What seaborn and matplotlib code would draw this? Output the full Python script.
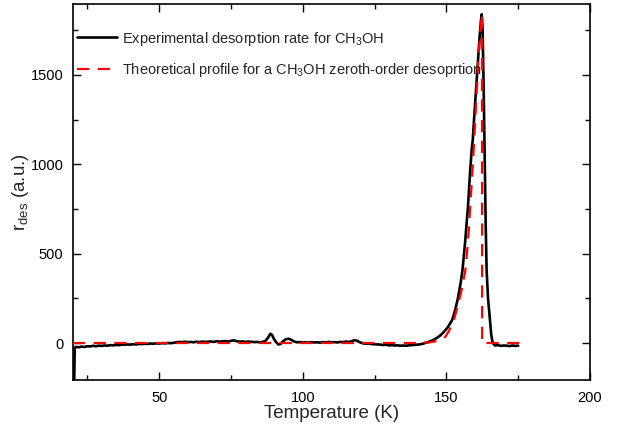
import matplotlib
matplotlib.use("Agg")
import matplotlib.pyplot as plt
import seaborn as sns
import pandas as pd
from matplotlib.ticker import MultipleLocator

# Experimental desorption rate
exp_T = [20.4, 20.6, 21, 22, 23, 24, 25, 26, 27, 28, 29, 30, 31, 32, 33, 34, 35, 36, 37, 38, 39,
         40, 41, 42, 43, 44, 45, 46, 47, 48, 49, 50, 51, 52, 53, 54, 55, 56, 57, 58, 59,
         60, 61, 62, 63, 64, 65, 66, 67, 68, 69, 70, 71, 72, 73, 74, 75, 76, 77, 78, 79,
         80, 81, 82, 83, 84, 85, 86, 87, 88, 88.7, 89.3, 90, 90.7, 91.5, 92.3, 93, 94, 95, 96, 97, 98, 99,
         100, 101, 102, 103, 104, 105, 106, 107, 108, 109, 110, 111, 112, 113, 114, 115, 116, 117, 118, 119,
         120, 121, 122, 123, 124, 125, 126, 127, 128, 129, 130, 131, 132, 133, 134, 135, 136, 137, 138, 139,
         140, 141, 142, 143, 144, 145, 146, 147.2, 148, 149, 150.5, 152, 153, 154, 155, 155.6, 156.5,
         157.5, 158.3, 158.8, 159.2, 159.5, 160, 160.5, 161, 161.5, 162, 162.3, 162.6, 163.0, 163.4,
         163.7, 164.0, 164.5, 165.2, 165.6, 166.0, 166.5, 167, 168, 169, 170, 171, 172, 173, 174, 175]
exp_r = [-235, -25, -22, -24, -20, -22, -18, -19, -16, -18, -15, -16, -14, -15, -12, -13, -11, -12, -9, -10, -8,
         -9, -7, -8, -5, -6, -4, -5, -3, -4, -2, -3, -1, -2, 0, -1, 1, 4, 6, 5, 7,
         5, 6, 4, 7, 5, 8, 6, 7, 9, 6, 10, 8, 9, 11, 8, 12, 15, 10, 8, 9,
         6, 8, 7, 5, 6, 4, 6, 12, 32, 52, 45, 22, 5, -8, -5, 8, 20, 24, 18, 8, 4, 5,
         3, 4, 2, 5, 3, 4, 2, 5, 3, 6, 4, 5, 3, 6, 5, 8, 6, 10, 16, 12,
         3, -2, -4, -3, -6, -7, -8, -9, -11, -10, -13, -12, -14, -13, -15, -14, -15, -13, -12, -10,
         -9, -7, -3, 2, 7, 14, 22, 34, 44, 60, 88, 129, 180, 250, 340, 408, 560,
         760, 968, 1080, 1140, 1220, 1340, 1460, 1580, 1700, 1800, 1840, 1760, 1400, 968,
         650, 410, 250, 125, 50, 10, -8, -14, -12, -16, -14, -15, -17, -14, -16, -15]

# Theoretical zeroth-order profile
th_T = [20, 140, 144, 147, 149.6, 151, 152.6, 154, 155.5, 156.6, 157.5, 158.3, 159.1, 160, 161.1,
        161.8, 162.4, 162.45, 178]
th_r = [0, 0, 3, 12, 34, 70, 129, 210, 310, 408, 560, 760, 968, 1230, 1584,
        1740, 1840, 0, 0]

xticks = [50, 100, 150, 200]
yticks = [0, 500, 1000, 1500]

sns.set_style("ticks")
plt.rcParams['font.family'] = ['Liberation Sans', 'DejaVu Sans']
plt.rcParams['mathtext.fontset'] = 'custom'
plt.rcParams['mathtext.rm'] = 'Liberation Sans'
plt.rcParams['mathtext.it'] = 'Liberation Sans:italic'
plt.rcParams['mathtext.bf'] = 'Liberation Sans:bold'

fig = plt.figure(figsize=(6.17, 4.28), dpi=100)
ax = fig.add_axes([73/617, 1-380/428, 517/617, 376/428])

df_exp = pd.DataFrame({"T": exp_T, "r": exp_r})
df_th = pd.DataFrame({"T": th_T, "r": th_r})

sns.lineplot(data=df_exp, x="T", y="r", color="black", lw=1.9, estimator=None, sort=False,
             ax=ax, label="Experimental desorption rate for CH$_3$OH", zorder=2)
sns.lineplot(data=df_th, x="T", y="r", color="red", lw=1.6, estimator=None, sort=False,
             ax=ax, label="Theoretical profile for a CH$_3$OH zeroth-order desoprtion", zorder=3,
             dashes=False, linestyle=(0, (5.5, 3.8)))

ax.set_xlim(20, 200)
ax.set_ylim(-207, 1897)
ax.set_xticks(xticks)
ax.set_yticks(yticks)
ax.xaxis.set_minor_locator(MultipleLocator(25))
ax.yaxis.set_minor_locator(MultipleLocator(250))
ax.tick_params(which='both', direction='in', top=True, right=True, width=1, labelsize=10.5, colors='black')
ax.tick_params(which='major', length=6)
ax.tick_params(which='minor', length=3.5)
ax.tick_params(axis='x', which='major', pad=8)
ax.tick_params(axis='y', which='major', pad=7)
for s in ax.spines.values():
    s.set_linewidth(1.2)
    s.set_color('black')

ax.set_xlabel("Temperature (K)", fontsize=13.5, labelpad=0)
ax.set_ylabel(r"r$_{\mathrm{des}}$ (a.u.)", fontsize=13.5)
ax.yaxis.set_label_coords(-0.082, 0.5)

leg = ax.legend(loc='upper left', bbox_to_anchor=(0.008, 0.932), frameon=False, fontsize=10.5,
                handlelength=2.75, handletextpad=0.35, labelspacing=0.95, borderpad=0, borderaxespad=0)

fig.savefig("out.png", dpi=100)
